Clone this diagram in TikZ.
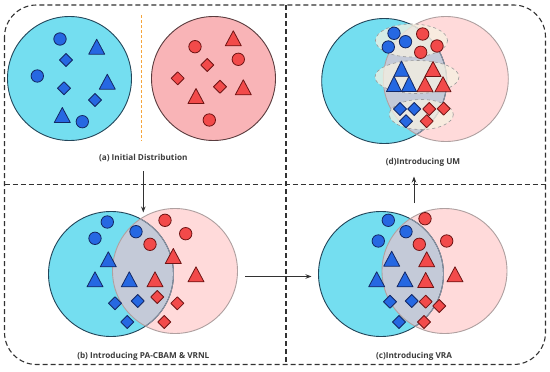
\documentclass[tikz,border=0pt]{standalone}
\usepackage{fontspec}
\setsansfont{Open Sans}
\usetikzlibrary{arrows.meta}
\definecolor{cyanf}{RGB}{116,222,240}
\definecolor{cyano}{RGB}{35,70,90}
\definecolor{pinka}{RGB}{249,180,183}
\definecolor{pinkao}{RGB}{90,60,62}
\definecolor{pinkf}{RGB}{255,218,218}
\definecolor{pinko}{RGB}{175,160,160}
\definecolor{lensc}{RGB}{196,202,216}
\definecolor{lenso}{RGB}{140,145,160}
\definecolor{sblue}{RGB}{38,104,226}
\definecolor{sblueo}{RGB}{20,40,100}
\definecolor{sred}{RGB}{242,74,74}
\definecolor{sredo}{RGB}{110,20,20}
\definecolor{beige}{RGB}{246,241,226}
\definecolor{framec}{RGB}{50,50,50}
\definecolor{labc}{RGB}{60,60,60}
\definecolor{orangel}{RGB}{245,165,60}
\tikzset{
  bshape/.style={fill=sblue, draw=sblueo, line width=0.8pt, line join=round},
  rshape/.style={fill=sred, draw=sredo, line width=0.8pt, line join=round},
  bcirc/.pic={\path[bshape] (0,0) circle (6.2);},
  rcirc/.pic={\path[rshape] (0,0) circle (6.2);},
  btri/.pic={\path[bshape] (-8,7.5) -- (8,7.5) -- (0,-7.5) -- cycle;},
  rtri/.pic={\path[rshape] (-8,7.5) -- (8,7.5) -- (0,-7.5) -- cycle;},
  bdia/.pic={\path[bshape] (0,-6.5) -- (6.5,0) -- (0,6.5) -- (-6.5,0) -- cycle;},
  rdia/.pic={\path[rshape] (0,-6.5) -- (6.5,0) -- (0,6.5) -- (-6.5,0) -- cycle;},
  framel/.style={draw=framec, line width=1.1pt, dash pattern=on 5pt off 3pt},
  arr/.style={draw=framec, line width=0.9pt, -{Stealth[length=6pt,width=4.5pt]}},
  lab/.style={font=\sffamily\bfseries\fontsize{8.2}{10}\selectfont, text=labc, inner sep=0pt},
  ell/.style={fill=beige, fill opacity=0.75, draw=gray!80, dashed, line width=0.6pt}
}
\newcommand{\venn}[4]{%
  \fill[cyanf] (#1) circle (62.5);
  \fill[pinkf] (#2) circle (62.5);
  \begin{scope}
    \clip (#1) circle (62.5);
    \fill[lensc] (#2) circle (62.5);
  \end{scope}
  \draw[cyano, line width=0.9pt] (#1) circle (62.5);
  \begin{scope}
    \clip (#2) circle (62.5);
    \draw[lenso, line width=0.9pt] (#1) circle (62.5);
  \end{scope}
  \draw[pinko, line width=0.9pt] (#2) circle (62.5);
}
\begin{document}
\begin{tikzpicture}[x=1pt,y=-1pt]
\useasboundingbox (0,0) rectangle (550,372);
\fill[white] (0,0) rectangle (550,372);

% frame
\draw[framel, rounded corners=32pt] (4.5,5) rectangle (545.5,364.5);
\draw[framel] (286,5) -- (286,364.5);
\draw[framel] (4.5,184.3) -- (545.5,184.3);

% ---------- (a)
\draw[cyano, fill=cyanf, line width=0.9pt] (69.5,78.5) circle (62);
\draw[pinkao, fill=pinka, line width=0.9pt] (213.5,78.5) circle (62);
\draw[orangel, line width=1pt, dash pattern=on 3pt off 2pt] (141,15) -- (141,141);
\foreach \p in {(60,39),(37.3,76),(82.3,121.7)} \pic at \p {bcirc};
\foreach \p in {(96.7,46.7),(107.3,81.7),(62.3,115)} \pic at \p {btri};
\foreach \p in {(66,60),(64,88.3),(95,100)} \pic at \p {bdia};
\foreach \p in {(233.3,38.3),(243.3,87.3),(196,96)} \pic at \p {rtri};
\foreach \p in {(195,46.7),(238.3,59.3),(209.3,120)} \pic at \p {rcirc};
\foreach \p in {(207.3,65),(177.7,78.3),(220,86.7)} \pic at \p {rdia};
\node[lab] (la) at (143.3,158.5) {(a) Initial Distribution};

% ---------- (b)
\venn{111,274}{175,271}{}{}
\foreach \p in {(107.3,222),(95,238.3),(136,231.7)} \pic at \p {bcirc};
\foreach \p in {(108.3,259.3),(95,279.3),(129.3,279.3)} \pic at \p {btri};
\foreach \p in {(115,303.3),(137.7,301),(127.3,322)} \pic at \p {bdia};
\foreach \p in {(165,220.3),(185.7,233.7),(150,244.3)} \pic at \p {rcirc};
\foreach \p in {(173.3,256),(196,274.3),(155,279.3)} \pic at \p {rtri};
\foreach \p in {(157.3,297),(177.3,303.3),(164.3,322)} \pic at \p {rdia};
\node[lab] (lb) at (143.3,356.5) {(b) Introducing PA-CBAM \& VRNL};

% ---------- (c)
\venn{381,274}{444.5,271}{}{}
\foreach \p in {(388.3,220.3),(378.3,241),(406,231.7)} \pic at \p {bcirc};
\foreach \p in {(391.7,258.7),(376.7,279.3),(405,279.3)} \pic at \p {btri};
\foreach \p in {(390,301.7),(411.7,301),(399,322)} \pic at \p {bdia};
\foreach \p in {(425,218.7),(446.7,241),(419.3,244.3)} \pic at \p {rcirc};
\foreach \p in {(426.7,259.3),(455,274.3),(425.7,280)} \pic at \p {rtri};
\foreach \p in {(425.7,301.7),(439.3,306),(424,322)} \pic at \p {rdia};
\node[lab] (lc) at (414,356.5) {(c)Introducing VRA};

% ---------- (d)
\venn{384.2,81}{445.8,79}{}{}
\path[ell] (411.5,40.5) ellipse (36 and 16.5);
\path[ell] (417,77) ellipse (42 and 16.5);
\path[ell] (421.3,114.5) ellipse (32 and 15);
\foreach \p in {(394,33.3),(388.3,47),(405.5,41.7)} \pic at \p {bcirc};
\foreach \p in {(422.7,34),(437,46),(420.7,52.3)} \pic at \p {rcirc};
\path[bshape] (401.5,61) -- (409,76.25) -- (394,76.25) -- cycle;
\path[bshape] (394,76.25) -- (401.5,91.5) -- (386.5,91.5) -- cycle;
\path[bshape] (409,76.25) -- (416.5,91.5) -- (401.5,91.5) -- cycle;
\foreach \p in {(433,69),(425,84.2),(443,84.2)} \pic at \p {rtri};
\foreach \p in {(400,109),(414.2,109),(406,121.2)} \pic at \p {bdia};
\foreach \p in {(429.3,109),(443.7,108.7),(426.7,121.2)} \pic at \p {rdia};
\node[lab] (ld) at (423,162) {(d)Introducing UM};

% ---------- arrows
\coordinate (a1) at (143.3,171);
\coordinate (a2) at (143.3,212.5);
\coordinate (b1) at (245,276.5);
\coordinate (b2) at (311.5,276.5);
\coordinate (c1) at (414,203);
\coordinate (c2) at (414,176.5);
\draw[arr] (a1) -- (a2);
\draw[arr] (b1) -- (b2);
\draw[arr] (c1) -- (c2);
\end{tikzpicture}
\end{document}
